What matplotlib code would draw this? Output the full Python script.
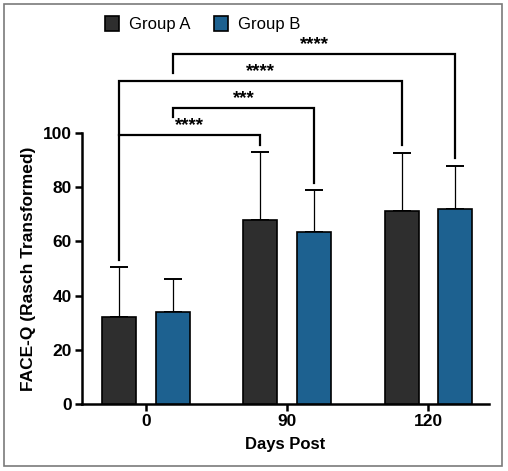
import numpy as np
import matplotlib
matplotlib.use('Agg')
import matplotlib.pyplot as plt
from matplotlib.patches import Rectangle

plt.rcParams['font.family'] = ['Liberation Sans', 'DejaVu Sans']

#data
days = ['0', '90', '120']
group_a = [32.2, 67.9, 71.3]
group_a_err = [18.5, 25.0, 21.4]
group_b = [33.8, 63.5, 71.8]
group_b_err = [12.2, 15.5, 16.1]

#significance brackets: x1, x2, bar y, left leg end, right leg end, label
brackets = [
    (-0.19, 0.81, 99.3, 53.1, 95.6, '****'),
    (0.19, 1.19, 109.2, 105.9, 81.7, '***'),
    (-0.19, 1.81, 119.2, 99.3, 95.6, '****'),
    (0.19, 2.19, 129.2, 122.1, 90.6, '****'),
]

col_a = '#2e2e2e'
col_b = '#1d6190'

fig = plt.figure(figsize=(5.08, 4.71), dpi=100)
ax = fig.add_axes([0.161, 0.1423, 0.802, 0.5753])

x = np.arange(len(days))
w = 0.24
off = 0.19
ba = ax.bar(x - off, group_a, w, color=col_a, edgecolor='black', lw=1.2, label='Group A', zorder=3)
bb = ax.bar(x + off, group_b, w, color=col_b, edgecolor='black', lw=1.2, label='Group B', zorder=3)
ax.errorbar(x - off, group_a, yerr=[np.zeros(3), group_a_err], fmt='none', ecolor='black',
            elinewidth=0.9, capsize=6.5, capthick=1.4, zorder=2)
ax.errorbar(x + off, group_b, yerr=[np.zeros(3), group_b_err], fmt='none', ecolor='black',
            elinewidth=0.9, capsize=6.5, capthick=1.4, zorder=2)

#brackets above
for x1, x2, yb, l1, l2, txt in brackets:
    ax.plot([x1, x1, x2, x2], [l1, yb, yb, l2], color='black', lw=1.6, clip_on=False,
            solid_joinstyle='miter', zorder=4)
    ax.text((x1 + x2) / 2, yb + 0.2, txt, ha='center', va='bottom', fontsize=13.5,
            fontweight='bold', clip_on=False)

ax.set_xlim(-0.455, 2.43)
ax.set_ylim(0, 100)
ax.set_yticks([0, 20, 40, 60, 80, 100])
ax.set_xticks(x)
ax.set_xticklabels(days)
for lab in ax.get_xticklabels() + ax.get_yticklabels():
    lab.set_fontweight('bold')
ax.tick_params(axis='both', labelsize=12.5, width=1.8, length=5, pad=2)
ax.spines['top'].set_visible(False)
ax.spines['right'].set_visible(False)
ax.spines['left'].set_linewidth(1.8)
ax.spines['bottom'].set_linewidth(1.8)
ax.set_xlabel('Days Post', fontsize=12, fontweight='bold', labelpad=6)
ax.set_ylabel('FACE-Q (Rasch Transformed)', fontsize=12.5, fontweight='bold', labelpad=5)

fig.legend(handles=[ba, bb], loc='center left', bbox_to_anchor=(0.19, 0.949), ncol=2,
           frameon=False, fontsize=12, handlelength=0.85, handleheight=1.0,
           handletextpad=0.6, columnspacing=1.4, borderpad=0)

fig.patches.append(Rectangle((0.008, 0.0106), 0.98, 0.981, transform=fig.transFigure,
                             fill=False, edgecolor='#7a7a7a', lw=1.2))

plt.savefig('out.png', dpi=100)
